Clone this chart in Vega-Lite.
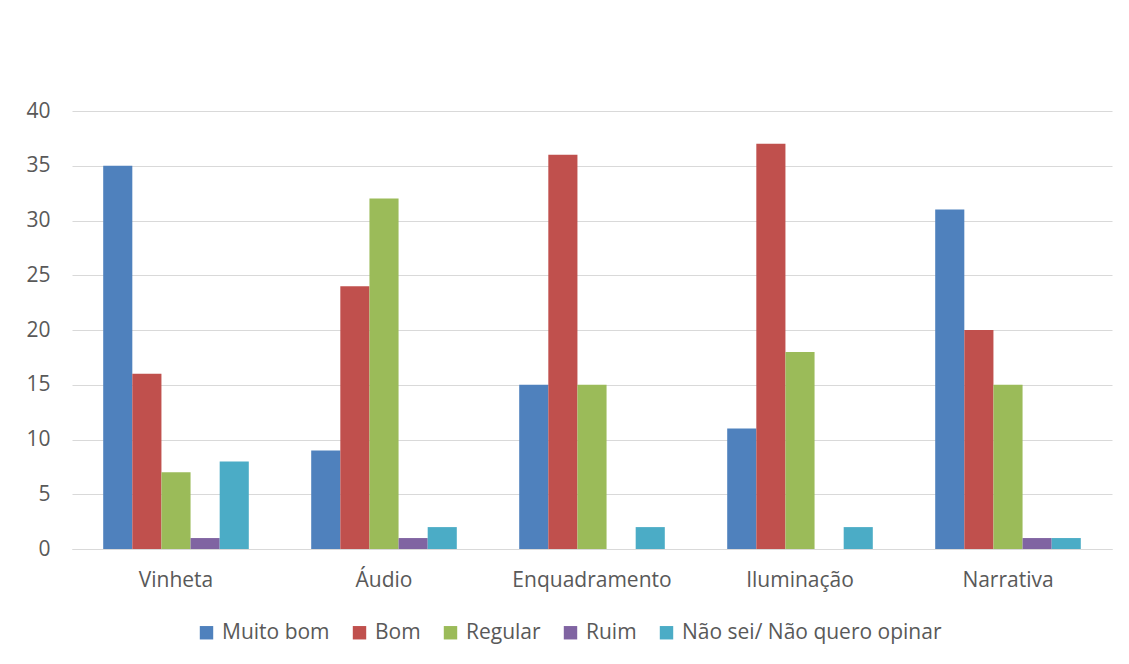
{
  "$schema": "https://vega.github.io/schema/vega-lite/v6.json",
  "width": 1040,
  "height": 438,
  "autosize": "none",
  "padding": {"left": 72, "top": 111, "right": 17, "bottom": 115},
  "background": "white",
  "config": {
    "view": {"stroke": null},
    "font": "Open Sans",
    "axis": {"labelFont": "Open Sans", "labelColor": "#595959", "labelFontSize": 21, "ticks": false, "title": null, "domain": false, "gridColor": "#D9D9D9", "gridWidth": 1, "labelLimit": 0},
    "legend": {"labelFont": "Open Sans", "labelColor": "#595959", "labelFontSize": 21, "labelLimit": 0}
  },
  "data": {
    "values": [
      {"cat": "Vinheta", "s": "Muito bom", "v": 35},
      {"cat": "Vinheta", "s": "Bom", "v": 16},
      {"cat": "Vinheta", "s": "Regular", "v": 7},
      {"cat": "Vinheta", "s": "Ruim", "v": 1},
      {"cat": "Vinheta", "s": "Não sei/ Não quero opinar", "v": 8},
      {"cat": "Áudio", "s": "Muito bom", "v": 9},
      {"cat": "Áudio", "s": "Bom", "v": 24},
      {"cat": "Áudio", "s": "Regular", "v": 32},
      {"cat": "Áudio", "s": "Ruim", "v": 1},
      {"cat": "Áudio", "s": "Não sei/ Não quero opinar", "v": 2},
      {"cat": "Enquadramento", "s": "Muito bom", "v": 15},
      {"cat": "Enquadramento", "s": "Bom", "v": 36},
      {"cat": "Enquadramento", "s": "Regular", "v": 15},
      {"cat": "Enquadramento", "s": "Ruim", "v": 0},
      {"cat": "Enquadramento", "s": "Não sei/ Não quero opinar", "v": 2},
      {"cat": "Iluminação", "s": "Muito bom", "v": 11},
      {"cat": "Iluminação", "s": "Bom", "v": 37},
      {"cat": "Iluminação", "s": "Regular", "v": 18},
      {"cat": "Iluminação", "s": "Ruim", "v": 0},
      {"cat": "Iluminação", "s": "Não sei/ Não quero opinar", "v": 2},
      {"cat": "Narrativa", "s": "Muito bom", "v": 31},
      {"cat": "Narrativa", "s": "Bom", "v": 20},
      {"cat": "Narrativa", "s": "Regular", "v": 15},
      {"cat": "Narrativa", "s": "Ruim", "v": 1},
      {"cat": "Narrativa", "s": "Não sei/ Não quero opinar", "v": 1}
    ]
  },
  "layer": [
    {
      "mark": {"type": "bar"},
      "encoding": {
        "x": {
          "field": "cat", "type": "nominal", "sort": null,
          "scale": {"paddingInner": 0.3, "paddingOuter": 0.15},
          "axis": {"labelAngle": 0, "labelPadding": 20, "grid": false, "domain": true, "domainColor": "#D9D9D9", "domainWidth": 1}
        },
        "xOffset": {"field": "s", "type": "nominal", "sort": null},
        "y": {
          "field": "v", "type": "quantitative",
          "scale": {"domain": [0, 40], "nice": false},
          "axis": {"values": [0, 5, 10, 15, 20, 25, 30, 35, 40], "labelPadding": 22, "grid": true}
        },
        "color": {
          "field": "s", "type": "nominal", "sort": null,
          "scale": {
            "domain": ["Muito bom", "Bom", "Regular", "Ruim", "Não sei/ Não quero opinar"],
            "range": ["#4F81BD", "#C0504D", "#9BBB59", "#8064A2", "#4BACC6"]
          },
          "legend": {
            "title": null, "orient": "none", "direction": "horizontal",
            "legendX": 124, "legendY": 511,
            "symbolType": "square", "symbolSize": 180, "symbolStrokeWidth": 0,
            "labelOffset": 5, "columnPadding": 19
          }
        }
      }
    }
  ]
}
